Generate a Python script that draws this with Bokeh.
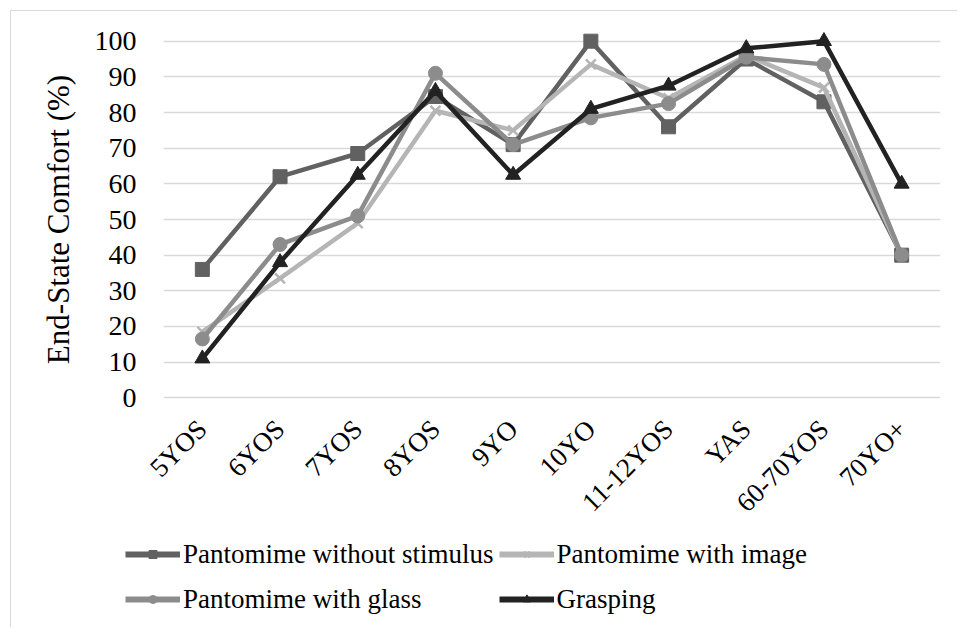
from bokeh.plotting import figure
from bokeh.models import Range1d, FactorRange, Legend, LegendItem
from bokeh.embed import file_html
from bokeh.resources import INLINE

categories = ["5YOS", "6YOS", "7YOS", "8YOS", "9YO", "10YO", "11-12YOS", "YAS", "60-70YOS", "70YO+"]
without_stimulus = [36, 62, 68.5, 84.5, 71, 100, 76, 95, 83, 40]
with_image = [18.5, 33.5, 49, 80.5, 75, 93.5, 84, 96, 87, 40]
with_glass = [16.5, 43, 51, 91, 71, 78.5, 82.5, 95.5, 93.5, 40]
grasping = [11, 38, 62.5, 86, 62.5, 81, 87.5, 98, 100, 60]
y_ticks = [0, 10, 20, 30, 40, 50, 60, 70, 80, 90, 100]

FONT = "Liberation Serif"

p = figure(width=947, height=524, x_range=FactorRange(*categories, range_padding=0),
           y_range=Range1d(-3, 103), output_backend="svg", toolbar_location=None,
           min_border_left=152, min_border_right=18, min_border_top=19, min_border_bottom=127)
p.styles = {"margin-left": "10px", "margin-top": "10px",
            "border-left": "1px solid #d9d9d9", "border-top": "1px solid #d9d9d9"}
p.outline_line_color = None
p.background_fill_color = "white"
p.border_fill_color = "white"

p.xgrid.grid_line_color = None
p.ygrid.grid_line_color = "#d9d9d9"
p.ygrid.grid_line_width = 1.5
p.yaxis.ticker = y_ticks

p.yaxis.axis_line_color = None
p.yaxis.major_tick_line_color = None
p.yaxis.minor_tick_line_color = None
p.yaxis.major_tick_out = 0
p.yaxis.major_label_standoff = 27
p.yaxis.major_label_text_font = FONT
p.yaxis.major_label_text_font_size = "28px"
p.yaxis.major_label_text_color = "black"
p.yaxis.axis_label = "End-State Comfort (%)"
p.yaxis.axis_label_text_font = FONT
p.yaxis.axis_label_text_font_size = "31px"
p.yaxis.axis_label_text_font_style = "normal"
p.yaxis.axis_label_text_color = "black"
p.yaxis.axis_label_standoff = 16

p.xaxis.axis_line_color = None
p.xaxis.major_tick_line_color = None
p.xaxis.major_tick_out = 0
p.xaxis.major_label_orientation = 0.785398
p.xaxis.major_label_standoff = 16
p.xaxis.major_label_text_font = FONT
p.xaxis.major_label_text_font_size = "27px"
p.xaxis.major_label_text_color = "black"

series = [
    ("Pantomime without stimulus", without_stimulus, "#616161", "square", 14),
    ("Pantomime with image", with_image, "#b5b5b5", "x", 14),
    ("Pantomime with glass", with_glass, "#8c8c8c", "circle", 14),
    ("Grasping", grasping, "#222222", "triangle", 15),
]

# legend strip below the chart (separate root so that frames are not aligned)
p2 = figure(width=947, height=93, x_range=FactorRange(*categories, range_padding=0),
            y_range=Range1d(200, 300), output_backend="svg", toolbar_location=None,
            min_border=0)
p2.styles = {"margin-left": "10px", "border-left": "1px solid #d9d9d9"}
p2.axis.visible = False
p2.grid.grid_line_color = None
p2.outline_line_color = None
p2.border_fill_color = "white"
p2.background_fill_color = "white"

def draw(fig, vals, color, marker, size, lw=4.5):
    ln = fig.line(categories, vals, line_color=color, line_width=lw)
    if marker == "x":
        sc = fig.scatter(categories, vals, marker=marker, size=size, line_color=color, line_width=2.5)
    else:
        sc = fig.scatter(categories, vals, marker=marker, size=size, fill_color=color, line_color=color)
    return ln, sc

items = []
for name, vals, color, marker, size in series:
    draw(p, vals, color, marker, size)
    l2, s2 = draw(p2, vals, color, marker, size, lw=6)
    items.append(LegendItem(label=name, renderers=[l2, s2]))

legend = Legend(items=items, orientation="horizontal", ncols=2, location=(114, 8),
                glyph_width=55, glyph_height=20, label_height=40, label_standoff=3,
                spacing=5, padding=0, margin=0, border_line_color=None,
                background_fill_alpha=0)
legend.label_text_font = FONT
legend.label_text_font_size = "27px"
legend.label_text_color = "black"
p2.add_layout(legend, "center")

open("out.html", "w").write(file_html([p, p2], INLINE))
